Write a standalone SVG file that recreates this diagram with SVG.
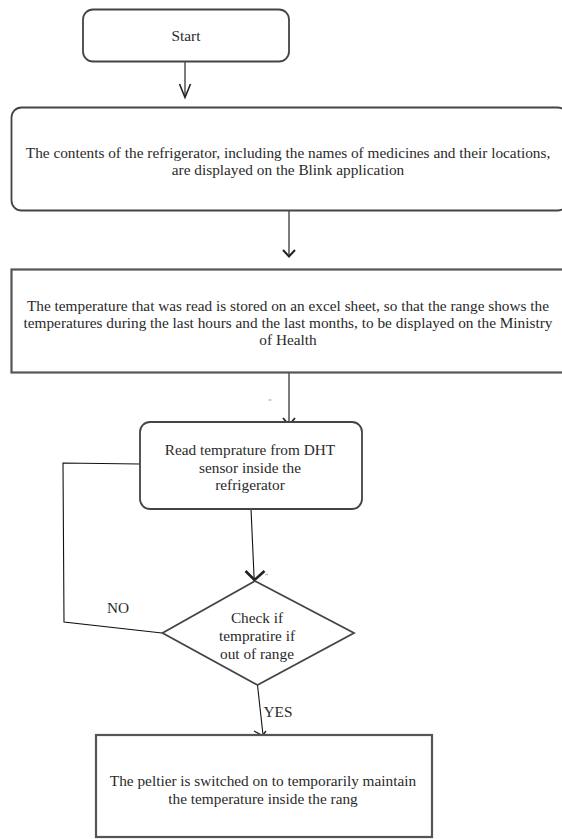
<svg xmlns="http://www.w3.org/2000/svg" width="562" height="839" viewBox="0 0 562 839">
<style>
.box{fill:#fff;stroke:#444;stroke-width:1.8}
.sq{fill:#fff;stroke:#555;stroke-width:2.2}
.ln{fill:none;stroke:#111;stroke-width:1.1}
.hd{fill:none;stroke:#222;stroke-width:1.6}
text{font-family:"Liberation Serif","Times New Roman",serif;font-size:15.3px;fill:#2a2a2a;text-anchor:middle;dominant-baseline:central}
</style>
<rect width="562" height="839" fill="#fff"/>
<g id="connectors">
<line class="ln" x1="185" y1="62" x2="185" y2="97"/>
<polyline class="hd" points="179.5,84 185,97.5 190.5,84"/>
<line class="ln" x1="289" y1="211" x2="289" y2="256"/>
<polyline class="hd" points="283,250 289,256.5 295,250" style="stroke-width:2"/>
<line class="ln" x1="289" y1="373" x2="289" y2="440"/>
<polyline class="hd" points="283,418 289,425 295,418" style="stroke-width:1.8"/>
<line class="ln" x1="251" y1="509" x2="255" y2="598"/>
<polyline class="hd" points="245.5,571 254.5,580 264.5,571" style="stroke-width:2.6"/>
<path d="M265,575 q1.5,-1.5 3,0" fill="none" stroke="#888" stroke-width="0.8"/>
<polyline class="ln" points="140,464 63,463 64,622 162,633"/>
<line class="ln" x1="257.5" y1="685" x2="263" y2="735"/>
<polyline class="hd" points="254,731 262.5,735.5 266,731" style="stroke-width:1.4"/>
<line x1="268.5" y1="400" x2="271.5" y2="400" stroke="#999" stroke-width="1"/>
<text x="118" y="607">NO</text>
<text x="278" y="711">YES</text>
</g>
<g id="start">
<rect class="box" x="83" y="9.5" width="206" height="52" rx="10"/>
<text x="186" y="35.5">Start</text>
</g>
<g id="contents">
<rect class="box" x="11.5" y="107.5" width="556" height="103" rx="10"/>
<text x="288" y="152">The contents of the refrigerator, including the names of medicines and their locations,</text>
<text x="288" y="169.5">are displayed on the Blink application</text>
</g>
<g id="stored">
<rect class="sq" x="11.5" y="269.5" width="556" height="103"/>
<text x="288" y="305">The temperature that was read is stored on an excel sheet, so that the range shows the</text>
<text x="288" y="322">temperatures during the last hours and the last months, to be displayed on the Ministry</text>
<text x="288" y="339">of Health</text>
</g>
<g id="read">
<rect class="box" x="140" y="422" width="222" height="87" rx="10"/>
<text x="250" y="449.5">Read temprature from DHT</text>
<text x="250" y="467">sensor inside the</text>
<text x="250" y="484.5">refrigerator</text>
</g>
<g id="check">
<polygon class="box" points="255,581 354,633 257.5,685 162.5,633"/>
<text x="257" y="617">Check if</text>
<text x="257" y="635">tempratire if</text>
<text x="257" y="653">out of range</text>
</g>
<g id="peltier">
<rect class="sq" x="96" y="735" width="336" height="102"/>
<text x="263" y="780">The peltier is switched on to temporarily maintain</text>
<text x="263" y="798.5">the temperature inside the rang</text>
</g>
</svg>
